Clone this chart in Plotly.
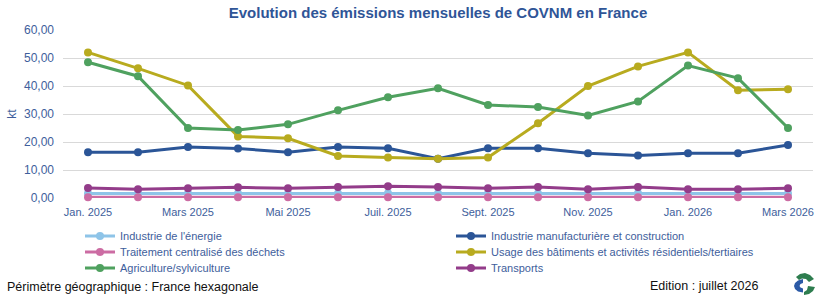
import plotly.graph_objects as go

months = ["Jan. 2025", "Févr. 2025", "Mars 2025", "Avr. 2025", "Mai 2025", "Juin 2025",
          "Juil. 2025", "Août 2025", "Sept. 2025", "Oct. 2025", "Nov. 2025", "Déc. 2025",
          "Jan. 2026", "Févr. 2026", "Mars 2026"]
tick_labels = ["Jan. 2025", "Mars 2025", "Mai 2025", "Juil. 2025", "Sept. 2025",
               "Nov. 2025", "Jan. 2026", "Mars 2026"]

energie = [1.6, 1.6, 1.6, 1.6, 1.5, 1.6, 1.7, 1.6, 1.6, 1.6, 1.5, 1.7, 1.5, 1.5, 1.6]
manuf = [16.3, 16.3, 18.2, 17.7, 16.3, 18.2, 17.8, 14.0, 17.8, 17.8, 16.0, 15.2, 16.0, 16.0, 18.9]
dechets = [0.3] * 15
usage = [52.0, 46.3, 40.2, 22.0, 21.3, 15.0, 14.5, 14.0, 14.5, 26.7, 40.0, 47.0, 52.0, 38.5, 38.8]
agri = [48.5, 43.5, 25.0, 24.3, 26.3, 31.3, 36.0, 39.2, 33.2, 32.5, 29.5, 34.5, 47.3, 42.8, 25.0]
transports = [3.6, 3.1, 3.5, 3.8, 3.5, 3.9, 4.2, 3.9, 3.5, 3.9, 3.1, 3.9, 3.1, 3.1, 3.5]

series = [
    ("Industrie de l'énergie", energie, "#8EC4E8", "legend"),
    ("Industrie manufacturière et construction", manuf, "#2B5597", "legend"),
    ("Traitement centralisé des déchets", dechets, "#CC6CA3", "legend2"),
    ("Usage des bâtiments et activités résidentiels/tertiaires", usage, "#B8AB1F", "legend2"),
    ("Agriculture/sylviculture", agri, "#4FA15F", "legend3"),
    ("Transports", transports, "#933C8A", "legend3"),
]

BLUE_TXT = "#3E5E9C"
FONT = "Liberation Sans"

fig = go.Figure()
for name, vals, col, lg in series:
    fig.add_trace(go.Scatter(
        x=months, y=vals, name=name, mode="lines+markers",
        line=dict(color=col, width=3), marker=dict(color=col, size=8),
        cliponaxis=False, legend=lg,
    ))

W, H = 817, 295
L, R, T, B = 63, 4, 30, 97
PW, PH = W - L - R, H - T - B


def px(x, y):
    return (x - L) / PW, (H - B - y) / PH


def path(points):
    s = ""
    for i, (x, y) in enumerate(points):
        a, b = px(x, y)
        s += ("M" if i == 0 else "L") + f"{a:.5f},{b:.5f} "
    return s + "Z"


shapes = [
    dict(type="path", xref="paper", yref="paper", line=dict(width=0), fillcolor="#2B5AA6",
         path=path([(803, 279), (798, 280.5), (795, 283), (794, 286), (795, 289), (798, 291.5),
                    (803, 292.5), (803, 288.5), (800.5, 287.5), (799.5, 286), (800.5, 284),
                    (803, 283)])),
    dict(type="path", xref="paper", yref="paper", line=dict(width=0), fillcolor="#2E7D4F",
         path=path([(796, 277), (800, 274), (805, 273), (810, 275), (814, 279), (809, 282),
                    (806, 279), (802, 278.5), (799, 280)])),
    dict(type="path", xref="paper", yref="paper", line=dict(width=0), fillcolor="#2E7D4F",
         path=path([(808, 286), (815, 287), (813, 291), (809, 294), (804, 295), (804, 292),
                    (807, 290)])),
]


def legend_row(ycenter):
    return dict(orientation="h", x=px(80, 0)[0], xanchor="left", y=px(0, ycenter)[1],
                yanchor="middle", entrywidth=326, entrywidthmode="pixels", itemwidth=30,
                font=dict(family=FONT, size=11, color=BLUE_TXT), tracegroupgap=0,
                bgcolor="rgba(0,0,0,0)")


fig.update_layout(
    width=W, height=H,
    margin=dict(l=L, r=R, t=T, b=B, autoexpand=False),
    paper_bgcolor="white", plot_bgcolor="white",
    separators=", ",
    font=dict(family=FONT, size=11, color=BLUE_TXT),
    title=dict(text="<b>Evolution des émissions mensuelles de COVNM en France</b>",
               x=0.5, xref="paper", xanchor="center", y=1 - 13 / H, yanchor="middle",
               font=dict(family=FONT, size=15, color="#2F5597")),
    xaxis=dict(type="category", categoryorder="array", categoryarray=months,
               range=[-0.5, 14.5], tickvals=tick_labels, ticktext=tick_labels,
               showgrid=False, showline=False, zeroline=False, ticks="",
               tickfont=dict(family=FONT, size=11, color=BLUE_TXT), ticklabelstandoff=6),
    yaxis=dict(range=[0, 60], dtick=10, tickformat=".2f", showgrid=True,
               gridcolor="#D9D9D9", gridwidth=1, zeroline=False, showline=False,
               tickfont=dict(family=FONT, size=12, color=BLUE_TXT), ticklabelstandoff=8,
               title=dict(text="kt", standoff=4, font=dict(family=FONT, size=12, color=BLUE_TXT))),
    showlegend=True,
    legend=legend_row(236),
    legend2=legend_row(252),
    legend3=legend_row(268),
    shapes=shapes,
    annotations=[
        dict(text="Périmètre géographique : France hexagonale", xref="paper", yref="paper",
             x=px(5, 0)[0], y=px(0, 287)[1], xanchor="left", yanchor="middle", showarrow=False,
             font=dict(family=FONT, size=12.5, color="#111111")),
        dict(text="Edition : juillet 2026", xref="paper", yref="paper",
             x=px(648, 0)[0], y=px(0, 286)[1], xanchor="left", yanchor="middle", showarrow=False,
             font=dict(family=FONT, size=12.5, color="#111111")),
    ],
)

fig.write_html("out.html")
